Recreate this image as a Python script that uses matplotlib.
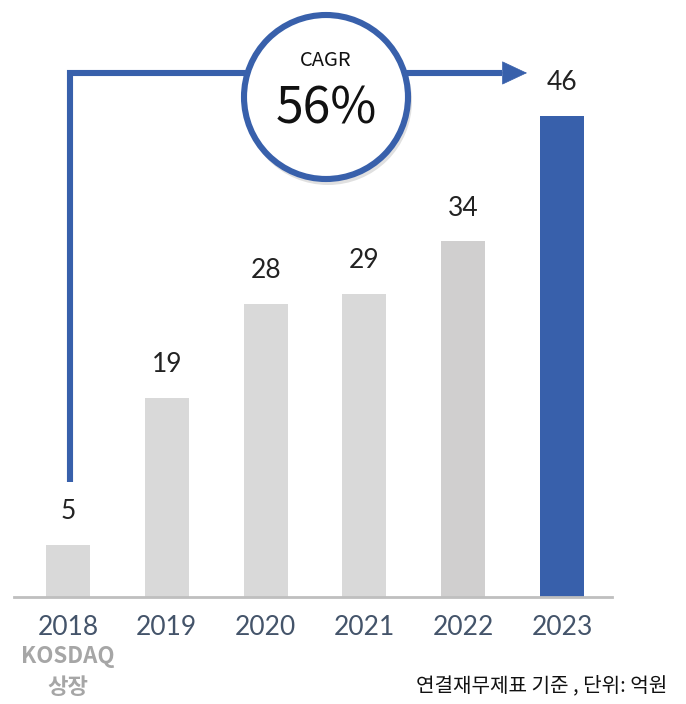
import matplotlib.pyplot as plt
from matplotlib.patches import Circle
import numpy as np

plt.rcParams['font.family'] = ['Noto Sans CJK KR', 'DejaVu Sans']

years = ['2018', '2019', '2020', '2021', '2022', '2023']
values = [5, 19, 28, 29, 34, 46]
bar_colors = ['#d9d9d9', '#d9d9d9', '#d9d9d9', '#d9d9d9', '#d0cfcf', '#3860ab']
cagr_label = '56%'
note = '연결재무제표 기준 , 단위: 억원'

blue = '#3860ab'
num_font = ['Lato', 'Noto Sans CJK KR']

fig = plt.figure(figsize=(6.86, 7.04), dpi=100)
# axes: baseline at 597px from top, axis line from x=14 to 612 px
ax = fig.add_axes([14 / 686, 107 / 704, 598 / 686, 597 / 704])
x = np.arange(len(years))
step = 98.8
ax.set_xlim(-54 / step, 544 / step)
ax.set_ylim(0, 597 / 10.46)
ax.bar(x, values, width=44 / step, color=bar_colors, zorder=2)

for s in ['top', 'right', 'left']:
    ax.spines[s].set_visible(False)
ax.spines['bottom'].set_color('#bfbfbf')
ax.spines['bottom'].set_linewidth(2)
ax.set_yticks([])
ax.set_xticks(x)
ax.set_xticklabels(years, fontsize=19, color='#44546a', family=num_font)
ax.tick_params(axis='x', length=0, pad=13)

for xi, v in zip(x, values):
    ax.annotate(str(v), (xi, v), xytext=(0, 15), textcoords='offset points',
                ha='center', va='bottom', fontsize=19,
                color='#222222', family=num_font)

# KOSDAQ listing note under first year
fig.text(68 / 686, 1 - 657 / 704, 'KOSDAQ', ha='center', va='center',
         fontsize=16, fontweight='bold', color='#a6a6a6')
fig.text(68 / 686, 1 - 688 / 704, '상장', ha='center', va='center',
         fontsize=16, fontweight='bold', color='#a6a6a6')
fig.text(667 / 686, 1 - 686 / 704, note, ha='right', va='center',
         fontsize=14.5, color='#111111')

# growth arrow: up from first bar label, across to last bar
x0 = x[0] + 2 / step
y_low = values[0] + 6
y_top = 50.1
x_end = x[-1] - 60 / step
ax.plot([x0, x0, x_end], [y_low, y_top, y_top], color=blue, lw=4.4,
        solid_capstyle='butt', solid_joinstyle='miter', zorder=3, clip_on=False)
ax.annotate('', xy=(x_end + 25 / step, y_top), xytext=(x_end - 2 / step, y_top),
            arrowprops=dict(arrowstyle='-|>,head_length=0.85,head_width=0.4',
                            mutation_scale=20, color=blue, lw=0.5,
                            shrinkA=0, shrinkB=0), zorder=3)

# CAGR circle
cx, cy, r = 3.26, 7.04 - 0.97, 0.82
fig.patches.append(Circle((cx + 0.02, cy - 0.04), r + 0.02, transform=fig.dpi_scale_trans,
                          facecolor='#000000', alpha=0.12, edgecolor='none', zorder=4))
fig.patches.append(Circle((cx, cy), r, transform=fig.dpi_scale_trans,
                          facecolor='white', edgecolor=blue, linewidth=4.4, zorder=5))
fig.text(cx / 6.86, (cy + 0.37) / 7.04, 'CAGR', ha='center', va='center',
         fontsize=14.5, fontweight='medium', color='#111111', zorder=6)
fig.text(cx / 6.86, (cy - 0.12) / 7.04, cagr_label, ha='center', va='center',
         fontsize=36, color='#111111', zorder=6)

fig.savefig('out.png', dpi=100)
